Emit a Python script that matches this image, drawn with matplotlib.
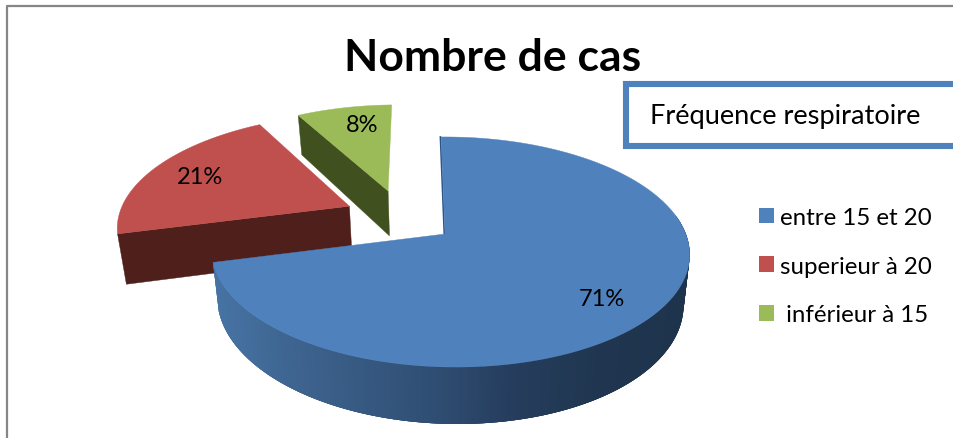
import numpy as np
import matplotlib
matplotlib.use("Agg")
import matplotlib.pyplot as plt
from matplotlib.patches import Patch, Rectangle

categories = ["entre 15 et 20", "superieur à 20", " inférieur à 15"]
values = [71, 21, 8]
title = "Nombre de cas"
box_text = "Fréquence respiratoire"

top_colors = ["#4f81bd", "#c0504d", "#9bbb59"]
wall_colors = [None, "#4f1f1c", "#41501f"]
# how far each slice is pulled out of the pie, in radius units
offsets = [(0.0, 0.0), (-0.42, 0.26), (-0.25, 0.41)]
radii = [1.0, 1.04, 1.0]
depths = [1.0, 1.08, 1.0]
# small moves of the % labels, in pixels
label_nudge = [(-5, 6), (-2, 0), (9, 0)]

plt.rcParams["font.family"] = ["Lato", "DejaVu Sans"]

# perspective camera, numbers fitted on the picture
CX, CY = 445, 235
FX, FY, FZ = 236, 112.2, 48
SHEAR = -4.5
P, Q = 0.1565, -0.02
DEPTH_SHRINK = 0.975
LABEL_R = 0.78


def project(x, y, z=0.0):
    s = 1 / (1 + P * y + Q * x)
    k = 1 + (1 - DEPTH_SHRINK) * z
    px = CX + (FX * x * k + SHEAR * y) * s
    py = CY - FY * y * s - FZ * z * s
    return px, py


def arc(t0, t1, off, r=1.0, n=200):
    t = np.radians(np.linspace(t0, t1, n))
    return off[0] + r * np.sin(t), off[1] + r * np.cos(t)


def wall_shade(px):
    stops = [211, 300, 440, 510, 600, 690]
    r = np.interp(px, stops, [0x47, 0x3d, 0x2f, 0x26, 0x20, 0x1e])
    g = np.interp(px, stops, [0x74, 0x63, 0x4d, 0x3e, 0x36, 0x33])
    b = np.interp(px, stops, [0xa5, 0x8e, 0x72, 0x5e, 0x50, 0x4c])
    return (r / 255, g / 255, b / 255)


fig = plt.figure(figsize=(9.54, 4.39), dpi=100)
ax = fig.add_axes([0, 0, 1, 1])
ax.set_xlim(0, 954)
ax.set_ylim(439, 0)
ax.axis("off")

# frame of the chart, only top and left are in the crop
ax.plot([7.5, 7.5, 954], [439, 6.5, 6.5], color="#868686", lw=1.6, zorder=1)

angles = np.cumsum([0] + values) / sum(values) * 360

# red then green then blue, blue sits in front
for i in [1, 2, 0]:
    t0, t1 = angles[i], angles[i + 1]
    off = offsets[i]
    r = radii[i]
    if i == 0:
        xs, ys = arc(80, t1, off, r, n=260)
        top = project(xs, ys, 0.0)
        bot = project(xs, ys, -depths[i])
        # quads overlap a bit so no seams show between them
        for j in range(len(xs) - 1):
            e = min(j + 4, len(xs) - 1)
            qx = [top[0][j], top[0][e], bot[0][e], bot[0][j]]
            qy = [top[1][j], top[1][e], bot[1][e], bot[1][j]]
            ax.fill(qx, qy, color=wall_shade(top[0][j]), lw=0, zorder=3)
    else:
        # the flat cut side turned to the viewer
        ex, ey = arc(t0, t0, off, r, n=1)
        qx = np.array([off[0], ex[0], ex[0], off[0]])
        qy = np.array([off[1], ey[0], ey[0], off[1]])
        qz = np.array([0.0, 0.0, -depths[i], -depths[i]])
        px, py = project(qx, qy, qz)
        ax.fill(px, py, color=wall_colors[i], lw=0.3, zorder=2)

    xs, ys = arc(t0, t1, off, r)
    px, py = project(np.r_[off[0], xs], np.r_[off[1], ys])
    ax.fill(px, py, color=top_colors[i], lw=0.3, zorder=4 if i == 0 else 2.5)

    if i == 0:
        # thin dark sliver on the cut at 12 o'clock
        ex, ey = project(np.array([off[0], off[0]]), np.array([off[1], off[1] + 1]))
        ax.plot(ex - 0.7, ey, color="#2b5488", lw=1.2, zorder=3.5)

    mid = np.radians((t0 + t1) / 2)
    lx, ly = project(off[0] + LABEL_R * np.sin(mid), off[1] + LABEL_R * np.cos(mid))
    ax.text(lx + label_nudge[i][0], ly + label_nudge[i][1], "{}%".format(values[i]),
            fontsize=17, ha="center", va="center", color="black", zorder=6)

ax.text(492.5, 58, title, fontsize=32, fontweight="bold", ha="center", va="center", zorder=6)

ax.add_patch(Rectangle((626.5, 85), 400, 62, facecolor="white", edgecolor="#4f81bd",
                       lw=4.4, zorder=5))
ax.text(650, 117, box_text, fontsize=19.6, ha="left", va="center", zorder=6)

handles = [Patch(facecolor=c, edgecolor="none") for c in top_colors]
ax.legend(handles, categories, loc="upper left", bbox_to_anchor=(759 / 954, 1 - 208 / 439),
          frameon=False, fontsize=17.3, handlelength=0.625, handleheight=0.625,
          handletextpad=0.25, labelspacing=1.15, borderpad=0, borderaxespad=0)

fig.savefig("out.png", dpi=100, facecolor="white")
